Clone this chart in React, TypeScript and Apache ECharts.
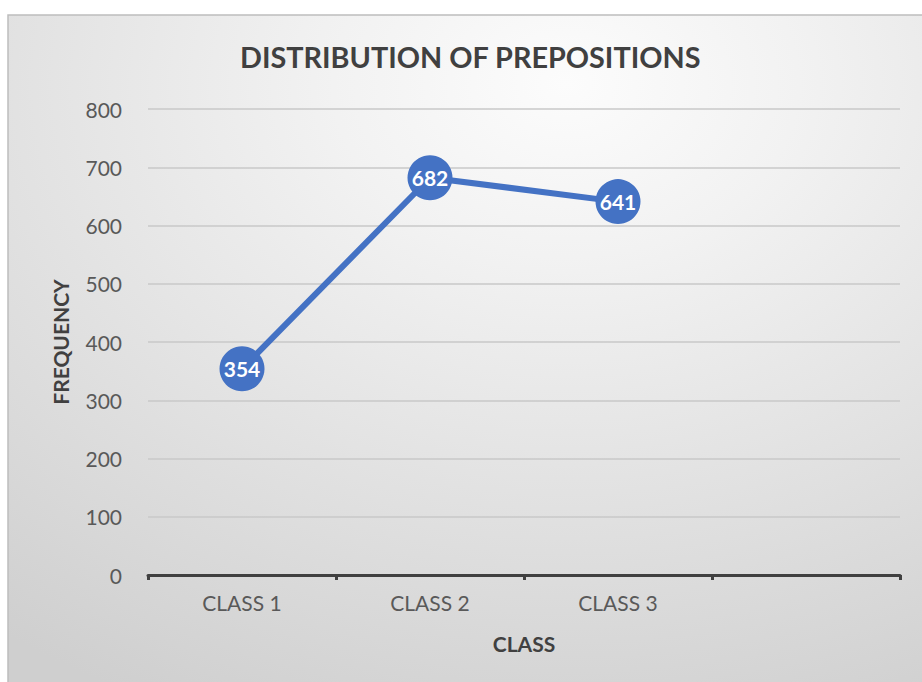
import React, { useEffect, useRef } from "react";
import * as echarts from "echarts";

// Prepositions counted per class
const categories = ["CLASS 1", "CLASS 2", "CLASS 3", ""];
const frequencies = [354, 682, 641];
const yTicks = [0, 100, 200, 300, 400, 500, 600, 700, 800];

const FONT = "Lato, 'Open Sans', sans-serif";
const BLUE = "#4472C4";

export default function App() {
  const ref = useRef<HTMLDivElement>(null);

  useEffect(() => {
    if (!ref.current) return;
    const chart = echarts.init(ref.current, undefined, { renderer: "svg" });
    chart.setOption({
      animation: false,
      backgroundColor: "#ffffff",
      graphic: [
        {
          type: "rect",
          z: -100,
          silent: true,
          shape: { x: 8, y: 15, width: 930, height: 690 },
          style: {
            fill: new echarts.graphic.RadialGradient(0.6, 0.1, 1.0, [
              { offset: 0, color: "#fcfcfc" },
              { offset: 0.25, color: "#f2f2f2" },
              { offset: 1, color: "#cfcfcf" },
            ]),
            stroke: "#bdbdbd",
            lineWidth: 1.5,
          },
        },
      ],
      title: {
        text: "DISTRIBUTION OF PREPOSITIONS",
        left: 235,
        top: 37,
        textStyle: {
          fontFamily: FONT,
          fontWeight: "bold",
          fontSize: 28.8,
          color: "#404040",
        },
      },
      grid: { left: 148, right: 22, top: 109, bottom: 107, containLabel: false },
      xAxis: {
        type: "category",
        data: categories,
        boundaryGap: true,
        name: "CLASS",
        nameLocation: "middle",
        nameGap: 58,
        nameTextStyle: {
          fontFamily: FONT,
          fontWeight: "bold",
          fontSize: 21,
          color: "#404040",
        },
        axisLine: { lineStyle: { color: "#404040", width: 3 } },
        axisTick: { show: true, length: 5, lineStyle: { color: "#404040", width: 3 } },
        axisLabel: {
          margin: 17,
          fontFamily: FONT,
          fontSize: 21,
          color: "#595959",
        },
        splitLine: { show: false },
      },
      yAxis: {
        type: "value",
        min: 0,
        max: 800,
        interval: 100,
        name: "FREQUENCY",
        nameLocation: "middle",
        nameGap: 77,
        nameTextStyle: {
          fontFamily: FONT,
          fontWeight: "bold",
          fontSize: 21,
          color: "#404040",
        },
        axisLine: { show: false },
        axisTick: { show: false },
        axisLabel: {
          margin: 26,
          fontFamily: FONT,
          fontSize: 21,
          color: "#595959",
          formatter: (v: number) => (yTicks.includes(v) ? String(v) : ""),
        },
        splitLine: { lineStyle: { color: "#c8c8c8", width: 1.5 } },
      },
      series: [
        {
          type: "line",
          data: frequencies,
          symbol: "circle",
          symbolSize: 45,
          lineStyle: { color: BLUE, width: 6 },
          itemStyle: { color: BLUE },
          label: {
            show: true,
            position: "inside",
            fontFamily: FONT,
            fontWeight: "bold",
            fontSize: 21,
            color: "#ffffff",
          },
        },
      ],
    });
    return () => chart.dispose();
  }, []);

  return (
    <div
      ref={ref}
      style={{ position: "absolute", left: 0, top: 0, width: 922, height: 682 }}
    />
  );
}
